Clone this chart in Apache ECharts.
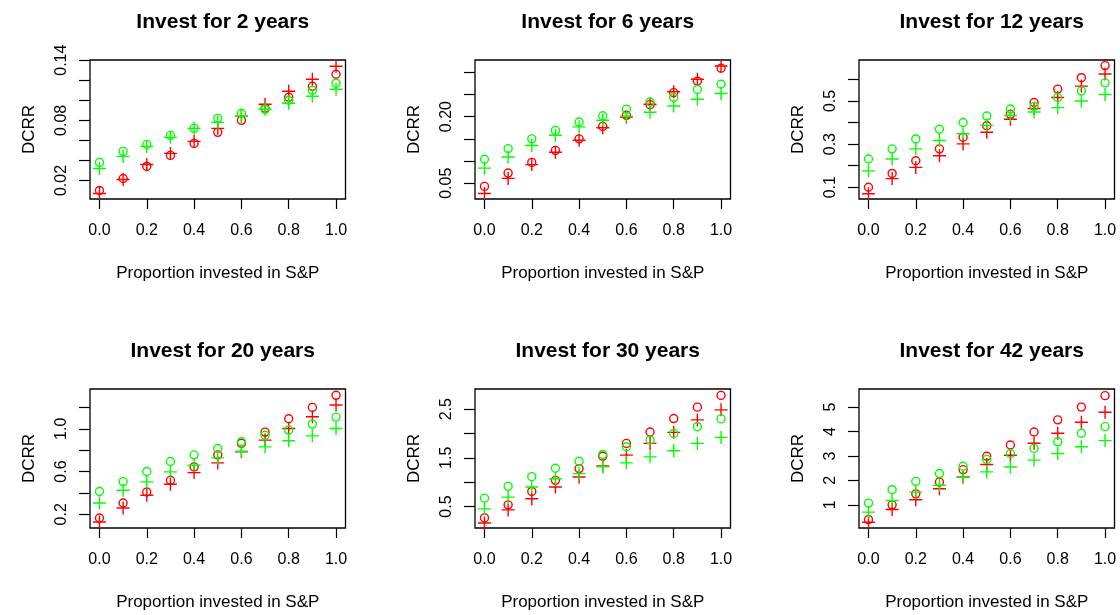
<!DOCTYPE html>
<html>
<head>
<meta charset="utf-8">
<script src="https://cdn.jsdelivr.net/npm/echarts@6/dist/echarts.min.js"></script>
<style>
html,body{margin:0;padding:0;background:#fff;}
#chart{width:1120px;height:615px;}
</style>
</head>
<body>
<div id="chart"></div>
<script>
// ---- data ----
const proportions = [0, 0.1, 0.2, 0.3, 0.4, 0.5, 0.6, 0.7, 0.8, 0.9, 1.0];
const panelTitles = ['Invest for 2 years', 'Invest for 6 years', 'Invest for 12 years',
                     'Invest for 20 years', 'Invest for 30 years', 'Invest for 42 years'];
const xTickValues = [0, 0.2, 0.4, 0.6, 0.8, 1.0];
const xTickLabels = ['0.0', '0.2', '0.4', '0.6', '0.8', '1.0'];

// 2 years
const redCircle2   = [0.010, 0.022, 0.034, 0.045, 0.057, 0.068, 0.080, 0.092, 0.103, 0.114, 0.126];
const redPlus2     = [0.007, 0.021, 0.036, 0.047, 0.059, 0.072, 0.084, 0.096, 0.109, 0.121, 0.134];
const greenCircle2 = [0.038, 0.049, 0.056, 0.065, 0.072, 0.082, 0.087, 0.091, 0.100, 0.110, 0.117];
const greenPlus2   = [0.032, 0.044, 0.054, 0.063, 0.072, 0.078, 0.084, 0.091, 0.097, 0.104, 0.111];
const yTicks2  = [0.02, 0.04, 0.06, 0.08, 0.10, 0.12, 0.14];
const yLabels2 = ['0.02', '0.08', '0.14'];

// 6 years
const redCircle6   = [0.043, 0.073, 0.097, 0.124, 0.150, 0.178, 0.203, 0.227, 0.254, 0.280, 0.309];
const redPlus6     = [0.027, 0.061, 0.092, 0.120, 0.147, 0.175, 0.199, 0.228, 0.256, 0.284, 0.314];
const greenCircle6 = [0.104, 0.128, 0.150, 0.169, 0.188, 0.202, 0.217, 0.233, 0.243, 0.261, 0.273];
const greenPlus6   = [0.084, 0.109, 0.135, 0.158, 0.177, 0.192, 0.201, 0.210, 0.224, 0.239, 0.252];
const yTicks6  = [0.05, 0.10, 0.15, 0.20, 0.25, 0.30];
const yLabels6 = ['0.05', '0.20'];

// 12 years
const redCircle12   = [0.100, 0.164, 0.223, 0.278, 0.332, 0.385, 0.438, 0.493, 0.555, 0.608, 0.664];
const redPlus12     = [0.070, 0.140, 0.192, 0.246, 0.301, 0.355, 0.415, 0.465, 0.516, 0.569, 0.625];
const greenCircle12 = [0.231, 0.278, 0.324, 0.369, 0.400, 0.430, 0.463, 0.475, 0.516, 0.547, 0.584];
const greenPlus12   = [0.176, 0.231, 0.278, 0.317, 0.348, 0.387, 0.433, 0.449, 0.469, 0.500, 0.530];
const yTicks12  = [0.1, 0.2, 0.3, 0.4, 0.5, 0.6];
const yLabels12 = ['0.1', '0.3', '0.5'];

// 20 years
const redCircle20   = [0.166, 0.306, 0.409, 0.519, 0.644, 0.756, 0.863, 0.969, 1.094, 1.200, 1.313];
const redPlus20     = [0.128, 0.259, 0.378, 0.481, 0.590, 0.681, 0.784, 0.894, 1.003, 1.113, 1.222];
const greenCircle20 = [0.413, 0.506, 0.600, 0.694, 0.756, 0.816, 0.878, 0.940, 0.988, 1.044, 1.109];
const greenPlus20   = [0.306, 0.425, 0.503, 0.597, 0.659, 0.728, 0.790, 0.831, 0.888, 0.934, 1.003];
const yTicks20  = [0.2, 0.4, 0.6, 0.8, 1.0, 1.2];
const yLabels20 = ['0.2', '0.6', '1.0'];

// 30 years
const redCircle30   = [0.266, 0.534, 0.810, 1.038, 1.279, 1.534, 1.797, 2.031, 2.307, 2.541, 2.783];
const redPlus30     = [0.162, 0.431, 0.659, 0.900, 1.107, 1.334, 1.555, 1.797, 2.024, 2.279, 2.486];
const greenCircle30 = [0.672, 0.914, 1.114, 1.286, 1.431, 1.569, 1.728, 1.866, 2.000, 2.140, 2.300];
const greenPlus30   = [0.452, 0.693, 0.900, 1.072, 1.176, 1.314, 1.397, 1.520, 1.645, 1.797, 1.920];
const yTicks30  = [0.5, 1.0, 1.5, 2.0, 2.5];
const yLabels30 = ['0.5', '1.5', '2.5'];

// 42 years
const redCircle42   = [0.395, 1.00, 1.45, 1.93, 2.44, 2.99, 3.45, 3.98, 4.48, 5.00, 5.47];
const redPlus42     = [0.285, 0.81, 1.21, 1.66, 2.14, 2.65, 3.03, 3.52, 3.93, 4.38, 4.79];
const greenCircle42 = [1.07, 1.62, 1.96, 2.28, 2.58, 2.86, 3.10, 3.31, 3.58, 3.93, 4.20];
const greenPlus42   = [0.70, 1.18, 1.52, 1.80, 2.14, 2.35, 2.55, 2.83, 3.10, 3.38, 3.63];
const yTicks42  = [1, 2, 3, 4, 5];
const yLabels42 = ['1', '2', '3', '4', '5'];

// ---- layout ----
const panels = [
  {title: panelTitles[0], rc: redCircle2,  rp: redPlus2,  gc: greenCircle2,  gp: greenPlus2,  ticks: yTicks2,  labels: yLabels2,  min: 0.0015, max: 0.1402, left: 90,  top: 60},
  {title: panelTitles[1], rc: redCircle6,  rp: redPlus6,  gc: greenCircle6,  gp: greenPlus6,  ticks: yTicks6,  labels: yLabels6,  min: 0.0146, max: 0.3275, left: 475, top: 60},
  {title: panelTitles[2], rc: redCircle12, rp: redPlus12, gc: greenCircle12, gp: greenPlus12, ticks: yTicks12, labels: yLabels12, min: 0.0455, max: 0.690,  left: 859, top: 60},
  {title: panelTitles[3], rc: redCircle20, rp: redPlus20, gc: greenCircle20, gp: greenPlus20, ticks: yTicks20, labels: yLabels20, min: 0.072,  max: 1.372,  left: 90,  top: 389},
  {title: panelTitles[4], rc: redCircle30, rp: redPlus30, gc: greenCircle30, gp: greenPlus30, ticks: yTicks30, labels: yLabels30, min: 0.059,  max: 2.914,  left: 475, top: 389},
  {title: panelTitles[5], rc: redCircle42, rp: redPlus42, gc: greenCircle42, gp: greenPlus42, ticks: yTicks42, labels: yLabels42, min: 0.0515, max: 5.742,  left: 859, top: 389}
];
const W = 255.5, H = 139;
const FONT = 'Liberation Sans, Arial, sans-serif';
const PLUS = 'path://M0,5L10,5M5,0L5,10';

const option = {animation: false, backgroundColor: '#fff', title: [], grid: [], xAxis: [], yAxis: [], series: []};

panels.forEach((p, i) => {
  option.title.push({
    text: p.title, left: p.left + W / 2, top: p.top - 53, textAlign: 'center',
    textStyle: {fontFamily: FONT, fontSize: 21, fontWeight: 'bold', color: '#000'}
  });
  option.grid.push({left: p.left, top: p.top, width: W, height: H, show: true,
    borderColor: '#000', borderWidth: 1.3, backgroundColor: 'transparent'});
  option.xAxis.push({
    type: 'value', gridIndex: i, min: -0.04, max: 1.04, position: 'bottom',
    name: 'Proportion invested in S&P', nameLocation: 'middle', nameGap: 66,
    nameTextStyle: {fontFamily: FONT, fontSize: 17, color: '#000'},
    axisLine: {show: false, onZero: false}, splitLine: {show: false},
    axisTick: {show: true, inside: false, length: 10, lineStyle: {color: '#000', width: 1.2}, customValues: xTickValues},
    axisLabel: {fontFamily: FONT, fontSize: 16, color: '#000', margin: 24, customValues: xTickValues,
      formatter: v => xTickLabels[xTickValues.findIndex(t => Math.abs(t - v) < 1e-9)] ?? ''}
  });
  const labelVals = p.labels.map(Number);
  option.yAxis.push({
    type: 'value', gridIndex: i, min: p.min, max: p.max, position: 'left',
    name: 'DCRR', nameLocation: 'middle', nameGap: 52, nameRotate: 90,
    nameTextStyle: {fontFamily: FONT, fontSize: 17, color: '#000'},
    axisLine: {show: false, onZero: false}, splitLine: {show: false},
    axisTick: {show: true, inside: false, length: 11, lineStyle: {color: '#000', width: 1.2}, customValues: p.ticks},
    axisLabel: {fontFamily: FONT, fontSize: 16, color: '#000', margin: 20, rotate: 90, customValues: labelVals,
      formatter: v => p.labels[labelVals.findIndex(t => Math.abs(t - v) < 1e-9)] ?? ''}
  });
  const mk = (vals, color, plus) => ({
    type: 'scatter', xAxisIndex: i, yAxisIndex: i,
    data: proportions.map((x, k) => [x, vals[k]]),
    symbol: plus ? PLUS : 'circle', symbolSize: plus ? 13 : 8,
    itemStyle: {color: 'transparent', borderColor: color, borderWidth: 1.4, opacity: 1},
    emphasis: {disabled: true}
  });
  option.series.push(mk(p.rc, '#ff0000', false), mk(p.rp, '#ff0000', true),
                     mk(p.gc, '#00ff00', false), mk(p.gp, '#00ff00', true));
});

const chart = echarts.init(document.getElementById('chart'), null, {renderer: 'canvas'});
chart.setOption(option);
</script>
</body>
</html>
